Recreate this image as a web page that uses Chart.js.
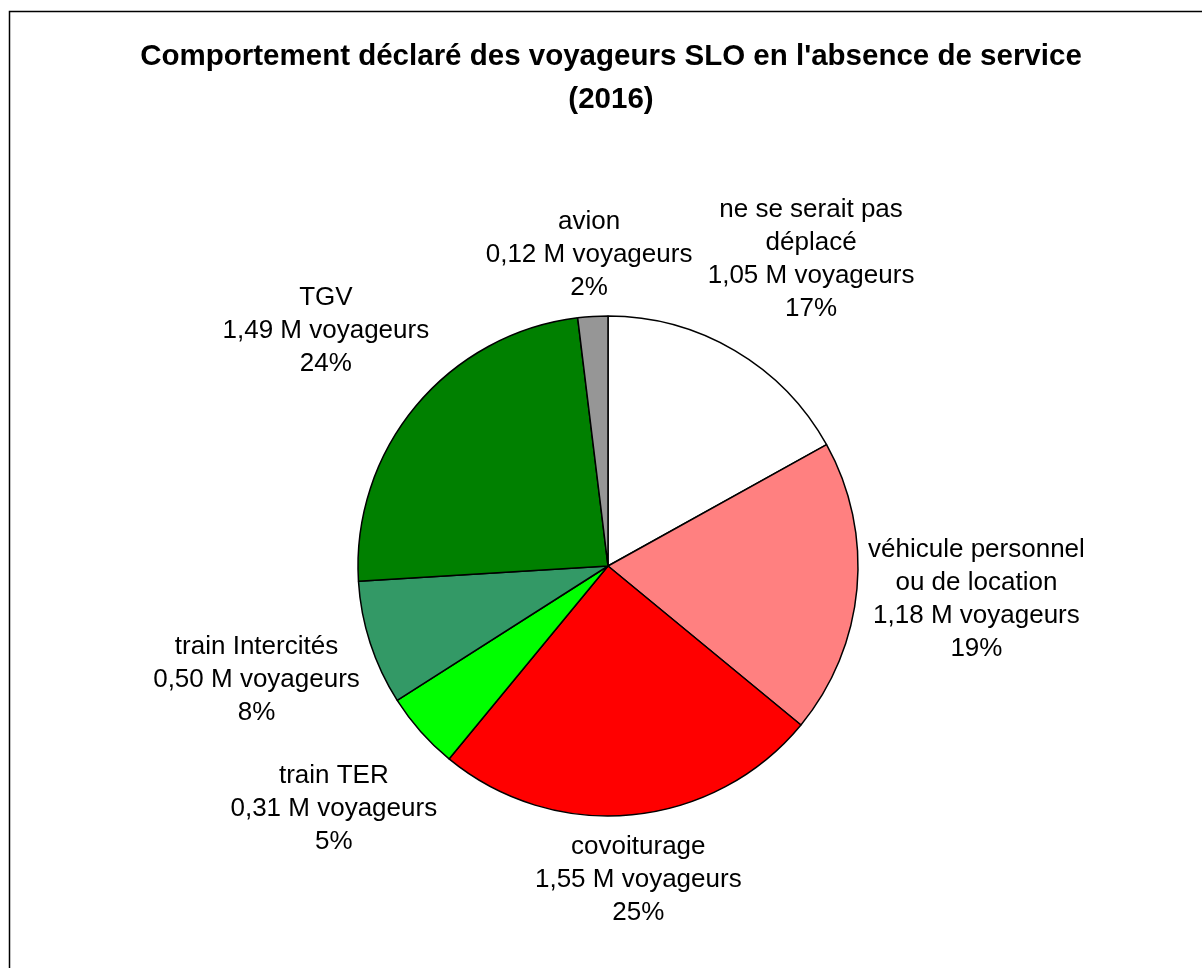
<!DOCTYPE html>
<html>
<head>
<meta charset="utf-8">
<script src="https://cdn.jsdelivr.net/npm/chart.js@4.4.0/dist/chart.umd.min.js"></script>
<style>
  html, body { margin: 0; padding: 0; background: #fff; }
  #wrap { position: relative; width: 1202px; height: 968px; overflow: hidden; }
  canvas { display: block; }
</style>
</head>
<body>
<div id="wrap"><canvas id="c" width="1202" height="968"></canvas></div>
<script>
// ---- data ----
const titleLines = ["Comportement déclaré des voyageurs SLO en l'absence de service", "(2016)"];
const categories = ["ne se serait pas déplacé", "véhicule personnel ou de location", "covoiturage", "train TER", "train Intercités", "TGV", "avion"];
const valuesM = [1.05, 1.18, 1.55, 0.31, 0.50, 1.49, 0.12];
const unitLabel = "M voyageurs";
const sliceColors = ["#FFFFFF", "#FF8080", "#FF0000", "#00FF00", "#339966", "#008000", "#969696"];

const LABEL_FONT = '26px "Liberation Sans", Arial, sans-serif';
const LINE_H = 33;
const WRAP_W = 225;
const GAP = 6;
const BOX_MARGIN = 14;

function wrapText(ctx, text, maxW) {
  const words = text.split(' ');
  const lines = [];
  let cur = '';
  for (const w of words) {
    const t = cur ? cur + ' ' + w : w;
    if (cur && ctx.measureText(t).width > maxW) { lines.push(cur); cur = w; }
    else cur = t;
  }
  if (cur) lines.push(cur);
  return lines;
}

const framePlugin = {
  id: 'frame',
  beforeDraw(chart) {
    const ctx = chart.ctx;
    ctx.save();
    ctx.fillStyle = '#fff';
    ctx.fillRect(0, 0, chart.width, chart.height);
    ctx.strokeStyle = '#000';
    ctx.lineWidth = 1.5;
    ctx.beginPath();
    ctx.moveTo(9.5, chart.height + 2);
    ctx.lineTo(9.5, 11.5);
    ctx.lineTo(chart.width + 2, 11.5);
    ctx.stroke();
    ctx.fillStyle = '#000';
    ctx.font = 'bold 29.5px "Liberation Sans", Arial, sans-serif';
    ctx.textAlign = 'center';
    ctx.textBaseline = 'alphabetic';
    ctx.fillText(titleLines[0], 611, 65);
    ctx.fillText(titleLines[1], 611, 108);
    ctx.restore();
  }
};

function placeBox(p, ang, w, h) {
  const ux = Math.cos(ang), uy = Math.sin(ang);
  const d = p.outerRadius + GAP + Math.abs(ux) * w / 2 + Math.abs(uy) * h / 2;
  const cx = p.x + ux * d, cy = p.y + uy * d;
  return { cx, cy, x0: cx - w / 2, x1: cx + w / 2, y0: cy - h / 2, y1: cy + h / 2 };
}
function overlaps(a, b) {
  return a.x0 < b.x1 + BOX_MARGIN && b.x0 < a.x1 + BOX_MARGIN &&
         a.y0 < b.y1 + BOX_MARGIN && b.y0 < a.y1 + BOX_MARGIN;
}

const labelPlugin = {
  id: 'sliceLabels',
  afterDatasetsDraw(chart) {
    const ctx = chart.ctx;
    const meta = chart.getDatasetMeta(0);
    const data = chart.data.datasets[0].data;
    const total = data.reduce((a, b) => a + b, 0);
    ctx.save();
    ctx.font = LABEL_FONT;
    ctx.fillStyle = '#000';
    ctx.textAlign = 'center';
    ctx.textBaseline = 'middle';
    const items = meta.data.map((arc, i) => {
      const p = arc.getProps(['x', 'y', 'startAngle', 'endAngle', 'outerRadius'], true);
      const lines = wrapText(ctx, chart.data.labels[i], WRAP_W);
      lines.push(data[i].toFixed(2).replace('.', ',') + ' ' + unitLabel);
      lines.push(Math.round(data[i] / total * 100) + '%');
      const w = Math.max(...lines.map(l => ctx.measureText(l).width));
      const h = lines.length * LINE_H;
      return { i, p, lines, w, h, mid: (p.startAngle + p.endAngle) / 2 };
    });
    // small slices keep their place; larger ones move away on collision
    const order = items.slice().sort((a, b) => data[a.i] - data[b.i]);
    const placed = [];
    order.forEach(it => {
      let box = placeBox(it.p, it.mid, it.w, it.h);
      let step = 0;
      while (placed.some(o => overlaps(box, o.box)) && step < 90) {
        const other = placed.find(o => overlaps(box, o.box));
        let diff = it.mid - other.mid;
        while (diff > Math.PI) diff -= 2 * Math.PI;
        while (diff < -Math.PI) diff += 2 * Math.PI;
        const dir = diff >= 0 ? 1 : -1;
        step++;
        box = placeBox(it.p, it.mid + dir * step * Math.PI / 360, it.w, it.h);
      }
      it.box = box;
      placed.push(it);
    });
    items.forEach(it => {
      it.lines.forEach((l, k) => {
        ctx.fillText(l, it.box.cx, it.box.cy - it.h / 2 + LINE_H * (k + 0.5));
      });
    });
    ctx.restore();
  }
};

new Chart(document.getElementById('c'), {
  type: 'pie',
  data: {
    labels: categories,
    datasets: [{
      data: valuesM,
      backgroundColor: sliceColors,
      borderColor: '#000',
      borderWidth: 1.5,
      radius: 250
    }]
  },
  options: {
    responsive: false,
    animation: false,
    layout: { padding: { left: 14, right: 0, top: 164, bottom: 0 } },
    plugins: {
      legend: { display: false },
      title: { display: false },
      tooltip: { enabled: false }
    }
  },
  plugins: [framePlugin, labelPlugin]
});
</script>
</body>
</html>
